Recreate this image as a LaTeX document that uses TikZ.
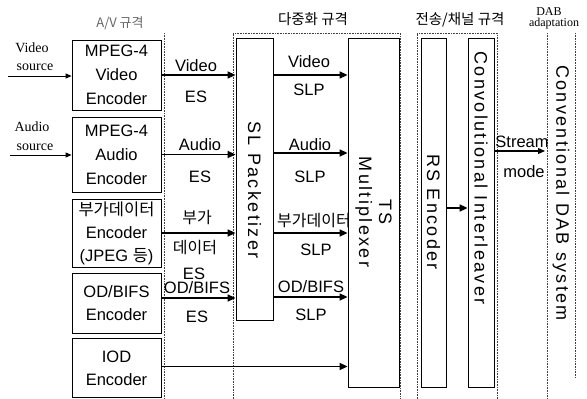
\documentclass[tikz,border=0pt]{standalone}
\usepackage{fontspec}
\setmainfont{Liberation Sans}
\newfontfamily\kr{Noto Sans CJK KR}
\newfontfamily\srf{Liberation Serif}
\newfontfamily\spc[LetterSpace=13]{Liberation Sans}
\usetikzlibrary{arrows.meta}
\begin{document}
\begin{tikzpicture}[x=1pt,y=-1pt,
  box/.style={draw,line width=0.8pt,inner sep=0pt,align=center,font=\fontsize{16.5}{24}\selectfont},
  blk/.style={draw,line width=0.8pt,inner sep=0pt},
  lbl/.style={font=\fontsize{16.5}{20}\selectfont,inner sep=0pt},
  src/.style={font=\srf\fontsize{14}{16}\selectfont,inner sep=0pt},
  ttl/.style={font=\kr\fontsize{14.5}{16}\selectfont,inner sep=0pt},
  grp/.style={draw=black!75,densely dotted,line width=0.6pt},
  flow/.style={line width=1.6pt,-{Triangle[length=8pt,width=7pt]}},
  thinflow/.style={line width=0.9pt,-{Triangle[length=6pt,width=5pt]}},
  rot/.style={rotate=-90,align=center,font=\spc\fontsize{18}{20}\selectfont,inner sep=0pt}]
\useasboundingbox[fill=white] (0,0) rectangle (587,399);

% group outlines
\draw[grp] (164,33) -- (164,399);
\draw[grp] (233,399) -- (233,33) -- (400,33) -- (400,399);
\draw[grp] (417,399) -- (417,33) -- (497,33) -- (497,399);
\draw[grp] (547,33) -- (547,399);
\draw[grp] (575,33) -- (575,378);

% group titles
\node[ttl,text=black!60,font=\kr\fontsize{13}{14}\selectfont] (t1) at (120,23) {A/V 규격};
\node[ttl] (t2) at (313,19) {다중화 규격};
\node[ttl] (t3) at (460,20) {전송/채널 규격};
\node[src,font=\srf\fontsize{12}{14}\selectfont] (t4a) at (549,12) {DAB};
\node[src,font=\srf\fontsize{12}{14}\selectfont] (t4b) at (554,24) {adaptation};

% encoders
\node[box,minimum width=89pt,minimum height=70pt] (ve) at (116.5,75) {MPEG-4\\Video\\Encoder};
\node[box,minimum width=89pt,minimum height=75pt] (ae) at (116.5,154.5) {MPEG-4\\Audio\\Encoder};
\node[box,minimum width=89pt,minimum height=68pt,font=\fontsize{16.5}{23}\selectfont] (de) at (116.5,233) {{\kr 부가데이터}\\Encoder\\(JPEG {\kr 등})};
\node[box,minimum width=89pt,minimum height=60pt,font=\fontsize{16.5}{23}\selectfont] (oe) at (116.5,303) {OD/BIFS\\Encoder};
\node[box,minimum width=89pt,minimum height=59pt,font=\fontsize{16.5}{23}\selectfont] (ie) at (116.5,368) {IOD\\Encoder};

% tall blocks
\node[blk,minimum width=37pt,minimum height=282pt] (sl) at (254.5,179) {};
\node[blk,minimum width=51pt,minimum height=349pt] (tm) at (373.5,212.5) {};
\node[blk,minimum width=25pt,minimum height=349pt] (rs) at (433.5,212.5) {};
\node[blk,minimum width=26pt,minimum height=349pt] (cv) at (481,212.5) {};

\node[rot] (slt) at (254.5,190) {SL Packetizer};
\node[rot] (tmt) at (373.5,212) {TS\\Multiplexer};
\node[rot] (rst) at (433.5,212) {RS Encoder};
\node[rot] (cvt) at (481,178) {Convolutional Interleaver};
\node[rot] (dab) at (561,193) {Conventional DAB system};

% sources
\node[src] (vs1) at (32,48) {Video};
\node[src] (vs2) at (35,67) {source};
\node[src] (as1) at (32,127) {Audio};
\node[src] (as2) at (35,147) {source};
\coordinate (vsrc) at (8,76);
\coordinate (asrc) at (10,155);
\draw[thinflow] (vsrc) -- (vsrc -| ve.west);
\draw[thinflow] (asrc) -- (asrc -| ae.west);

% ES arrows
\draw[flow] (ve.east) -- (ve.east -| sl.west);
\draw[flow] (ae.east) -- (ae.east -| sl.west);
\draw[flow] (de.east) -- (de.east -| sl.west);
\draw[flow] ([yshift=5pt]oe.east) -- ([yshift=5pt]oe.east -| sl.west);
\draw[flow] ([yshift=1.5pt]ie.east) -- ([yshift=1.5pt]ie.east -| tm.west);

% SLP arrows
\draw[flow] (sl.east |- ve.east) -- (tm.west |- ve.east);
\draw[flow] ([yshift=1.5pt]sl.east |- ae.east) -- ([yshift=1.5pt]tm.west |- ae.east);
\draw[flow] (sl.east |- de.east) -- (tm.west |- de.east);
\draw[flow] ([yshift=6pt]sl.east |- oe.east) -- ([yshift=6pt]tm.west |- oe.east);

% channel arrows
\draw[flow] ([yshift=4.5pt]rs.east) -- ([yshift=4.5pt]rs.east -| cv.west);
\coordinate (dabin) at (545,151);
\draw[line width=1.2pt,-{Triangle[length=7pt,width=6pt]}] (cv.east |- dabin) -- (dabin);

% arrow labels
\node[lbl] (l1) at (196,66) {Video};
\node[lbl] (l2) at (196,97) {ES};
\node[lbl] (l3) at (309,62) {Video};
\node[lbl] (l4) at (309,90) {SLP};
\node[lbl] (l5) at (200,145) {Audio};
\node[lbl] (l6) at (200,177) {ES};
\node[lbl] (l7) at (310,145) {Audio};
\node[lbl] (l8) at (310,177) {SLP};
\node[lbl,font=\kr\fontsize{16}{20}\selectfont] (l9) at (197,218) {부가};
\node[lbl,font=\kr\fontsize{16}{20}\selectfont] (l10) at (195,248) {데이터};
\node[lbl] (l11) at (194,274) {ES};
\node[lbl] (l12) at (314,221) {\kr\fontsize{16}{20}\selectfont 부가데이터};
\node[lbl] (l13) at (316,250) {SLP};
\node[lbl] (l14) at (197,288) {OD/BIFS};
\node[lbl] (l15) at (197,317) {ES};
\node[lbl] (l16) at (311,287) {OD/BIFS};
\node[lbl] (l17) at (311,315) {SLP};
\node[lbl] (l18) at (522,142) {Stream};
\node[lbl] (l19) at (524,172) {mode};
\end{tikzpicture}
\end{document}
